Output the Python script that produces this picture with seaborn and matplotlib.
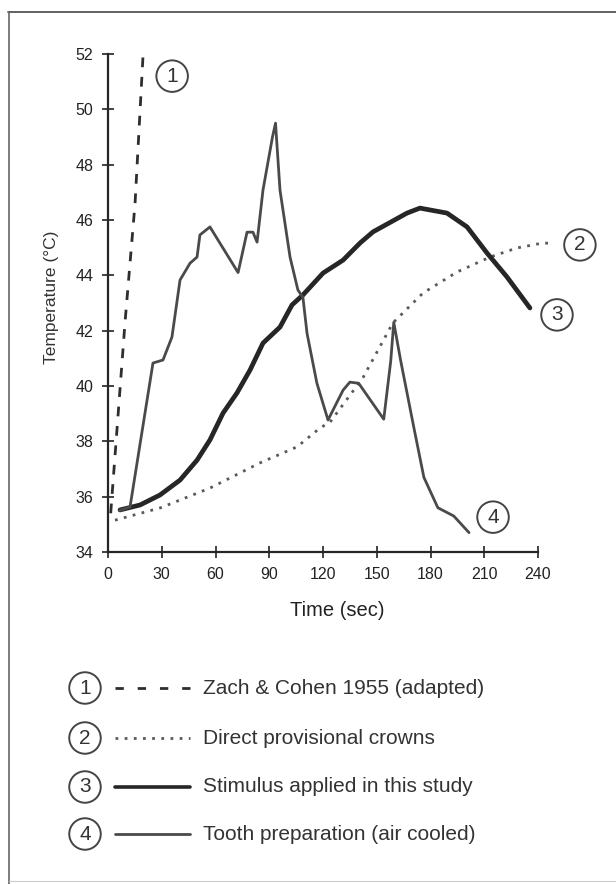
import numpy as np
import pandas as pd
import matplotlib
matplotlib.use("Agg")
import matplotlib.pyplot as plt
from matplotlib.lines import Line2D
import seaborn as sns

# ---- data ----
t1 = [1.5, 9.5, 15.1, 19.6]
T1 = [35.4, 42.3, 46.6, 52.0]

t2 = [3.9, 29.0, 56.9, 84.8, 105.5, 118.3, 124.0, 142.3, 159.0, 175.8, 194.8,
      213.2, 228.3, 242.8, 249.0]
T2 = [35.15, 35.59, 36.31, 37.22, 37.8, 38.48, 38.7, 40.3, 42.28, 43.36, 44.12,
      44.66, 44.99, 45.17, 45.15]

t3 = [6.7, 17.9, 29.0, 40.2, 49.7, 56.9, 64.2, 72.0, 79.3, 86.5, 96.0, 102.7, 108.8,
      120.0, 131.2, 140.7, 147.9, 166.9, 174.1, 189.2, 200.4, 211.5, 222.7, 235.5]
T3 = [35.52, 35.70, 36.06, 36.60, 37.32, 38.05, 39.02, 39.75, 40.58, 41.55, 42.13,
      42.93, 43.29, 44.08, 44.55, 45.17, 45.57, 46.25, 46.43, 46.25, 45.75, 44.81,
      43.94, 42.82]

t4 = [6.5, 12.3, 25.1, 30.7, 35.7, 40.2, 45.8, 49.7, 51.3, 56.9, 72.6, 77.6, 80.9,
      83.2, 86.5, 91.8, 93.5, 96.0, 101.6, 106.0, 108.8, 111.1, 116.6, 122.8, 131.2,
      135.0, 139.9, 153.9, 157.8, 159.5, 163.4, 170.7, 176.3, 184.1, 193.0, 201.5]
T4 = [35.5, 35.63, 40.83, 40.94, 41.77, 43.83, 44.44, 44.66, 45.46, 45.75, 44.1,
      45.56, 45.56, 45.2, 47.08, 49.0, 49.5, 47.08, 44.66, 43.47, 43.2, 41.9, 40.1,
      38.77, 39.85, 40.14, 40.1, 38.8, 40.9, 42.3, 40.9, 38.5, 36.7, 35.6, 35.3, 34.7]

x_ticks = [0, 30, 60, 90, 120, 150, 180, 210, 240]
y_ticks = [34, 36, 38, 40, 42, 44, 46, 48, 50, 52]
legend_labels = ["Zach & Cohen 1955 (adapted)", "Direct provisional crowns",
                 "Stimulus applied in this study", "Tooth preparation (air cooled)"]
curve_tags = ["1", "2", "3", "4"]

# ---- style ----
sns.set_style("ticks")
plt.rcParams['font.family'] = ['Liberation Sans', 'DejaVu Sans']

W, H = 616, 884
fig = plt.figure(figsize=(W / 100, H / 100), dpi=100)

# axes geometry in pixels: x=0 -> 108px, x=240 -> 538px ; y=34 -> 552px, y=52 -> 54px
px_per_x = (538 - 108) / 240
px_per_y = (552 - 54) / 18
xmax, ymax = 256, 52.4
left = 108 / W
right_px = 108 + xmax * px_per_x
top_px = 552 - (ymax - 34) * px_per_y
ax = fig.add_axes([left, 1 - 552 / H, (right_px - 108) / W, (552 - top_px) / H])
ax.set_xlim(0, xmax)
ax.set_ylim(34, ymax)

styles = [
    dict(color="#2e2e2e", lw=2.0, ls=(0, (3.5, 3.5))),
    dict(color="#5a5a5a", lw=2.0, ls=(0, (1, 2.3))),
    dict(color="#262626", lw=3.4, ls="-"),
    dict(color="#4a4a4a", lw=2.0, ls="-"),
]
series = [(t1, T1), (t2, T2), (t3, T3), (t4, T4)]
for (tx, ty), st in zip(series, styles):
    sns.lineplot(x=tx, y=ty, ax=ax, color=st["color"], linewidth=st["lw"],
                 linestyle=st["ls"], sort=False, estimator=None)
for ln in ax.lines:
    ln.set_clip_on(False)
    ln.set_solid_joinstyle("round")

# spines / ticks
for s in ["top", "right"]:
    ax.spines[s].set_visible(False)
ax.spines["left"].set_bounds(34, 52)
ax.spines["bottom"].set_bounds(0, 240)
ax.spines["left"].set_linewidth(1.6)
ax.spines["bottom"].set_linewidth(1.6)
ax.set_xticks(x_ticks)
ax.set_yticks(y_ticks)
ax.set_xticklabels([str(v) for v in x_ticks])
ax.set_yticklabels([str(v) for v in y_ticks])
ax.tick_params(direction="inout", length=9, width=1.2, labelsize=11.5, colors="#222222",
               pad=6)
ax.set_xlabel("Time (sec)", fontsize=14.5, color="#222222", labelpad=14)
ax.set_ylabel("Temperature (°C)", fontsize=12.5, color="#333333", labelpad=12)

# circled tags on the curves
tag_pos = [(35.8, 51.2), (263.4, 45.1), (250.6, 42.57), (214.9, 35.26)]
for tag, (tx, ty) in zip(curve_tags, tag_pos):
    ax.text(tx, ty, tag, ha="center", va="center", fontsize=15, color="#333333",
            bbox=dict(boxstyle="circle,pad=0.3", fc="white", ec="#444444", lw=1.4),
            clip_on=False)

# legend drawn in figure pixels
leg_y = [688, 738, 787, 834]
for i, (lab, st, tag) in enumerate(zip(legend_labels, styles, curve_tags)):
    yf = 1 - leg_y[i] / H
    fig.text(85 / W, yf, tag, ha="center", va="center", fontsize=15, color="#333333",
             bbox=dict(boxstyle="circle,pad=0.3", fc="white", ec="#444444", lw=1.4))
    lw = st["lw"] if i != 2 else 2.6
    fig.add_artist(Line2D([115 / W, 190 / W], [yf, yf], color=st["color"], lw=lw,
                          linestyle=st["ls"] if i != 0 else (0, (3, 5))))
    fig.text(203 / W, yf, lab, ha="left", va="center", fontsize=15, color="#333333")

# scan frame
fig.add_artist(Line2D([8 / W, 1.0], [1 - 12 / H, 1 - 12 / H], color="#555555", lw=1.3))
fig.add_artist(Line2D([9 / W, 9 / W], [1 - 12 / H, 0.0], color="#666666", lw=1.2))
fig.add_artist(Line2D([9 / W, 1.0], [1 - 881 / H, 1 - 881 / H], color="#cccccc", lw=0.8))

fig.savefig("out.png", dpi=100, facecolor="white")
